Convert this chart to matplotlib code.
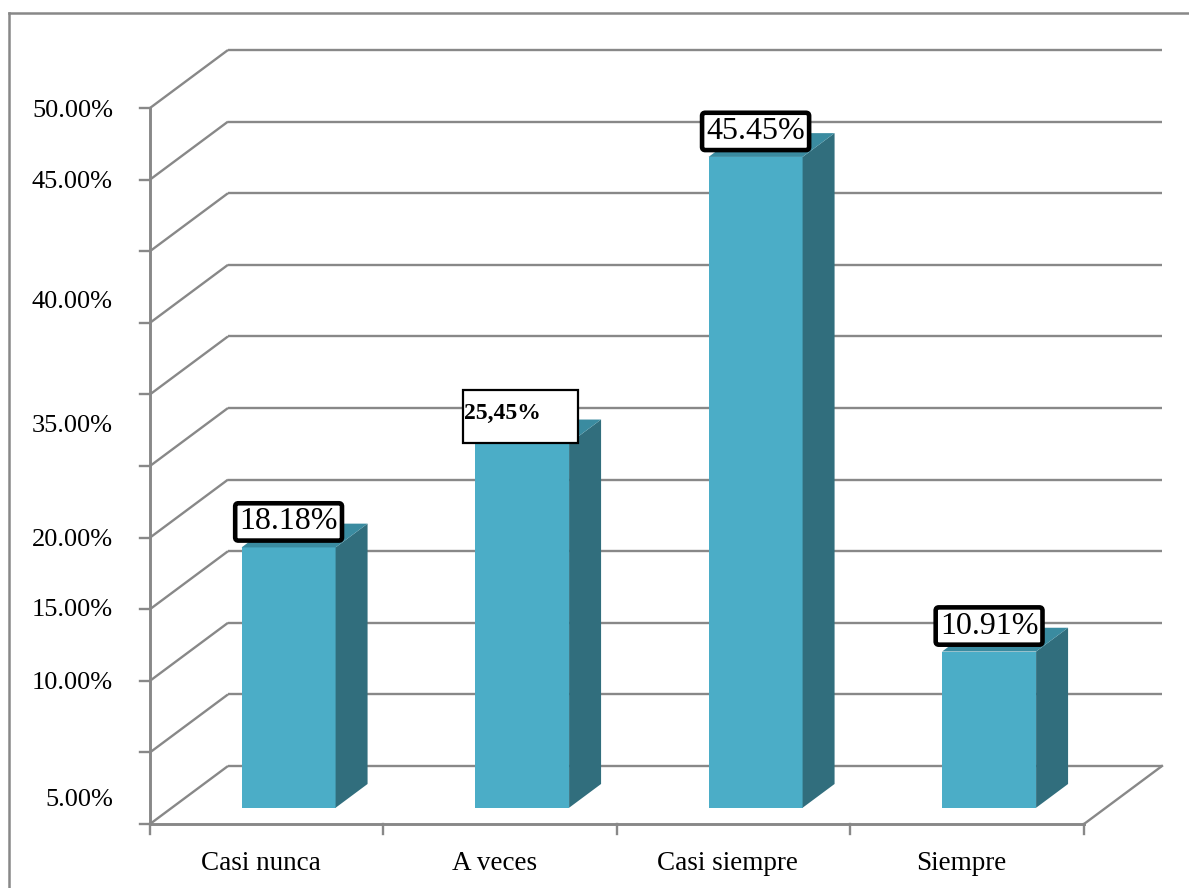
import matplotlib
matplotlib.use('Agg')
import matplotlib.pyplot as plt
from matplotlib.patches import Polygon, Rectangle
from matplotlib.lines import Line2D

# ---- data ----
categories = ['Casi nunca', 'A veces', 'Casi siempre', 'Siempre']
values = [18.18, 25.45, 45.45, 10.91]
value_labels = ['18.18%', '25,45%', '45.45%', '10.91%']
grid_levels = [0, 5, 10, 15, 20, 25, 30, 35, 40, 45, 50]
ytick_labels = ['50.00%', '45.00%', '40.00%', '35.00%', '20.00%', '15.00%', '10.00%', '5.00%']
ytick_label_at = [49.8, 44.8, 36.45, 27.8, 19.83, 14.94, 9.85, 1.68]

# ---- style ----
FRONT = '#4BADC7'
SIDE = '#316E7D'
TOP = '#3A8BA0'
GRID = '#888888'
SERIF = ['Liberation Serif', 'DejaVu Serif']

W, H, DPI = 1189, 888, 100
fig = plt.figure(figsize=(W / DPI, H / DPI), dpi=DPI)
ax = fig.add_axes([0, 0, 1, 1])
ax.set_axis_off()

PX_CAT = 233.5      # pixels per category
PX_PCT = 14.32      # pixels per percent
X0, Y0 = 150, 824   # pixel origin of front axes
ax.set_xlim(-X0 / PX_CAT, (W - X0) / PX_CAT)
ax.set_ylim(-(H - Y0) / PX_PCT, Y0 / PX_PCT)

DX = 78 / PX_CAT    # depth vector
DY = 58 / PX_PCT
ncat = len(categories)
ymax = grid_levels[-1]
glw = 1.7

# figure border (top and left)
fig.add_artist(Line2D([9 / W, 9 / W], [0, 1 - 13 / H], color=GRID, lw=1.8))
fig.add_artist(Line2D([9 / W, 1], [1 - 13 / H, 1 - 13 / H], color=GRID, lw=1.8))

# walls and grid
for v in grid_levels:
    ax.plot([0, DX], [v, v + DY], color=GRID, lw=glw, solid_capstyle='butt')
    ax.plot([DX, ncat + DX], [v + DY, v + DY], color=GRID, lw=glw, solid_capstyle='butt')
    ax.plot([-10 / PX_CAT, 0], [v, v], color=GRID, lw=glw)
# floor
ax.plot([ncat, ncat + DX], [0, DY], color=GRID, lw=glw)
ax.plot([0, ncat], [0, 0], color=GRID, lw=glw + 0.4)
ax.plot([0, 0], [0, ymax], color=GRID, lw=glw + 0.4)
for i in range(ncat + 1):
    ax.plot([i, i], [0, -10 / PX_PCT], color=GRID, lw=glw)

# y tick labels
for lab, pos in zip(ytick_labels, ytick_label_at):
    ax.text(-37 / PX_CAT, pos, lab, ha='right', va='center', fontsize=19, family=SERIF)

# category labels
for i, c in enumerate(categories):
    ax.text(i + 0.5 - 6 / PX_CAT, -39 / PX_PCT, c, ha='center', va='center', fontsize=19.5, family=SERIF)

# bars
fd = 0.28     # front depth fraction
bd = 0.41     # bar depth fraction
bw = 0.4026   # bar width (category units)
for i, v in enumerate(values):
    xl = i + 0.5 + fd * DX - bw / 2
    xr = xl + bw
    yb = fd * DY
    yt = v + fd * DY
    ddx, ddy = bd * DX, bd * DY
    ax.add_patch(Polygon([(xl, yb), (xr, yb), (xr, yt), (xl, yt)], closed=True, fc=FRONT, ec='none', zorder=3))
    ax.add_patch(Polygon([(xr, yb), (xr + ddx, yb + ddy), (xr + ddx, yt + ddy), (xr, yt)], closed=True, fc=SIDE, ec='none', zorder=3))
    ax.add_patch(Polygon([(xl, yt), (xr, yt), (xr + ddx, yt + ddy), (xl + ddx, yt + ddy)], closed=True, fc=TOP, ec='none', zorder=3))

    lab = value_labels[i]
    if ',' in lab:
        bx = xl - 12 / PX_CAT
        bwid = 115 / PX_CAT
        bh = 53 / PX_PCT
        ax.add_patch(Rectangle((bx, yt), bwid, bh, fc='white', ec='black', lw=1.6, zorder=5))
        ax.text(bx + 1 / PX_CAT, yt + 30 / PX_PCT, lab, ha='left', va='center', fontsize=17,
                fontweight='bold', family=SERIF, zorder=6)
    else:
        ax.text((xl + xr) / 2, yt + 11 / PX_PCT, lab, ha='center', va='bottom', fontsize=23,
                family=SERIF, zorder=6,
                bbox=dict(boxstyle='round,pad=0.13,rounding_size=0.1', fc='white', ec='black', lw=3.3))

fig.savefig('out.png', dpi=DPI)
